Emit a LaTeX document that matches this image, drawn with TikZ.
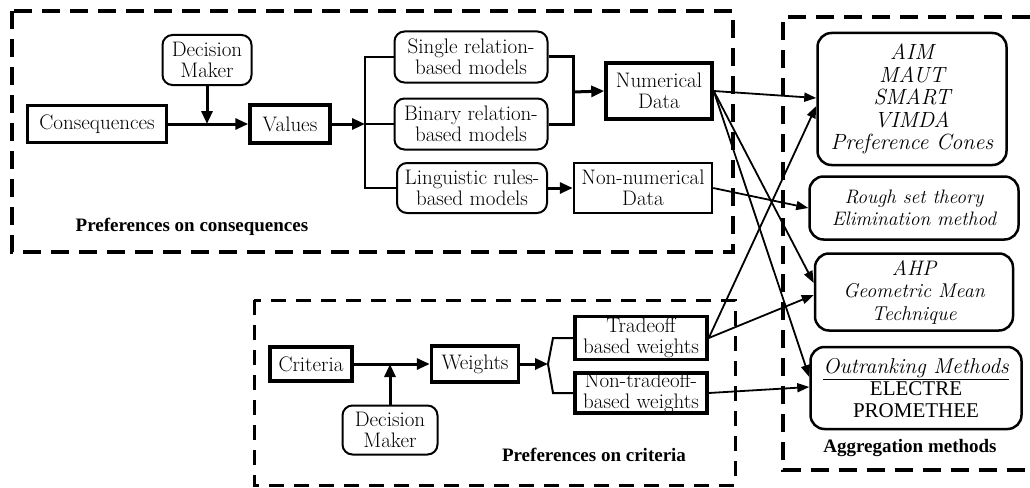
\documentclass[tikz,border=0pt]{standalone}
\usepackage{fontspec}
\newfontfamily\labelfont{Liberation Serif}
\usetikzlibrary{arrows.meta}
\begin{document}
\begin{tikzpicture}[x=1pt,y=-1pt,
  every node/.style={font=\fontsize{21}{21}\selectfont, align=center, inner sep=0pt},
  sq/.style={draw, line width=3.5pt},
  sqthin/.style={draw, line width=2.5pt},
  rbox/.style={draw, line width=2pt, rounded corners=10pt},
  agg/.style={draw, line width=2.5pt, rounded corners=14pt, font=\fontsize{20}{22.5}\selectfont\itshape},
  heavy/.style={line width=3pt},
  branch/.style={line width=2pt},
  arr/.style={-{Triangle[length=13pt,width=11pt]}},
  link/.style={line width=1.8pt, -{Triangle[length=12pt,width=9pt]}},
  frame/.style={dash pattern=on 18pt off 10pt, line width=4pt},
  frameB/.style={dash pattern=on 15pt off 10pt, line width=3pt},
  caption/.style={font=\labelfont\bfseries\fontsize{19}{21}\selectfont},
]
\useasboundingbox (0,0) rectangle (1030,487);

% group frames
\draw[frame] (12,11) rectangle (733,252);
\draw[frameB] (254,300) rectangle (735,485);
\draw[frame] (1030,17) -- (783,17) -- (783,470) -- (1030,470);

% preferences on consequences
\node[sq, minimum width=139pt, minimum height=37pt] (cons) at (97,124) {Consequences};
\node[rbox, minimum width=89pt, minimum height=50pt] (dmA) at (207,60) {Decision\\Maker};
\node[sq, minimum width=80pt, minimum height=38pt] (vals) at (290,124) {Values};
\node[rbox, minimum width=153pt, minimum height=51pt] (single) at (471,57) {Single relation-\\based models};
\node[rbox, minimum width=153pt, minimum height=51pt] (binary) at (471,124) {Binary relation-\\based models};
\node[rbox, minimum width=150pt, minimum height=50pt] (ling) at (472,188) {Linguistic rules-\\based models};
\node[sq, minimum width=106pt, minimum height=56pt] (num) at (659,91) {Numerical\\Data};
\node[sqthin, minimum width=138pt, minimum height=50pt] (nonnum) at (643,188) {Non-numerical\\Data};
\node[caption] (capA) at (192,227) {Preferences on consequences};

% preferences on criteria
\node[sq, minimum width=82pt, minimum height=34pt] (crit) at (311,364) {Criteria};
\node[sq, minimum width=87pt, minimum height=36pt] (wts) at (475,364) {Weights};
\node[rbox, minimum width=95pt, minimum height=49pt] (dmB) at (390,430) {Decision\\Maker};
\node[sq, minimum width=132pt, minimum height=43pt] (trade) at (641,338) {Tradeoff\\based weights};
\node[sq, minimum width=132pt, minimum height=40pt] (nontrade) at (641,393) {Non-tradeoff-\\based weights};
\node[caption] (capB) at (594,455) {Preferences on criteria};

% aggregation methods
\node[agg, minimum width=189pt, minimum height=132pt, font=\fontsize{22}{22.5}\selectfont\itshape] (aim) at (912,99)
  {AIM\\MAUT\\SMART\\VIMDA\\Preference Cones};
\node[agg, minimum width=209pt, minimum height=63pt, font=\fontsize{19.5}{22}\selectfont\itshape] (rough) at (914,208)
  {Rough set theory\\Elimination method};
\node[agg, minimum width=198pt, minimum height=77pt] (ahp) at (914,292) {{\fontsize{21}{22.5}\selectfont AHP}\\Geometric Mean\\Technique};
\node[agg, minimum width=211pt, minimum height=82pt, font=\fontsize{21.5}{22}\selectfont] (outr) at (916,388)
  {\underline{\itshape Outranking Methods}\\{\labelfont\fontsize{21}{22}\selectfont ELECTRE}\\{\labelfont\fontsize{21}{22}\selectfont PROMETHEE}};
\node[caption] (capC) at (910,448) {Aggregation methods};

% flow of consequences
\coordinate (jA) at (dmA.south |- cons.east);
\draw[heavy,arr] (cons) -- (vals);
\draw[heavy,arr] (dmA) -- (jA);
\coordinate (bA) at (365,124);
\draw[heavy,arr] (vals) -- (bA);
\draw[branch] (single.west) -| (bA) |- (ling.west);
\draw[branch] (bA) -- (binary.west);
\coordinate (jB) at (573,92);
\draw[heavy] (single.east) -| (jB |- binary.east) -- (binary.east);
\draw[heavy,arr] (jB) -- (num.west);
\draw[heavy,arr] (ling) -- (nonnum);

% flow of criteria
\coordinate (jC) at (dmB.north |- crit.east);
\draw[heavy,arr] (crit) -- (wts);
\draw[heavy,arr] (dmB) -- (jC);
\coordinate (bB) at (548,364);
\draw[heavy,arr] (wts) -- (bB);
\draw[branch] (bB) -- ([xshift=5pt]bB |- trade.west) -- (trade.west);
\draw[branch] (bB) -- ([xshift=5pt]bB |- nontrade.west) -- (nontrade.west);

% links to aggregation methods
\draw[link] (num.east) -- ([yshift=1pt]aim.west);
\draw[link] (num.east) -- ([yshift=9pt]ahp.west);
\draw[link] (num.east) -- ([yshift=11pt]outr.west);
\draw[link] (nonnum.east) -- (rough.west);
\draw[link] (trade.east) -- ([yshift=-7pt]aim.west);
\draw[link] (trade.east) -- ([yshift=-3pt]ahp.west);
\draw[link] (nontrade.east) -- ([yshift=1pt]outr.west);
\end{tikzpicture}
\end{document}
